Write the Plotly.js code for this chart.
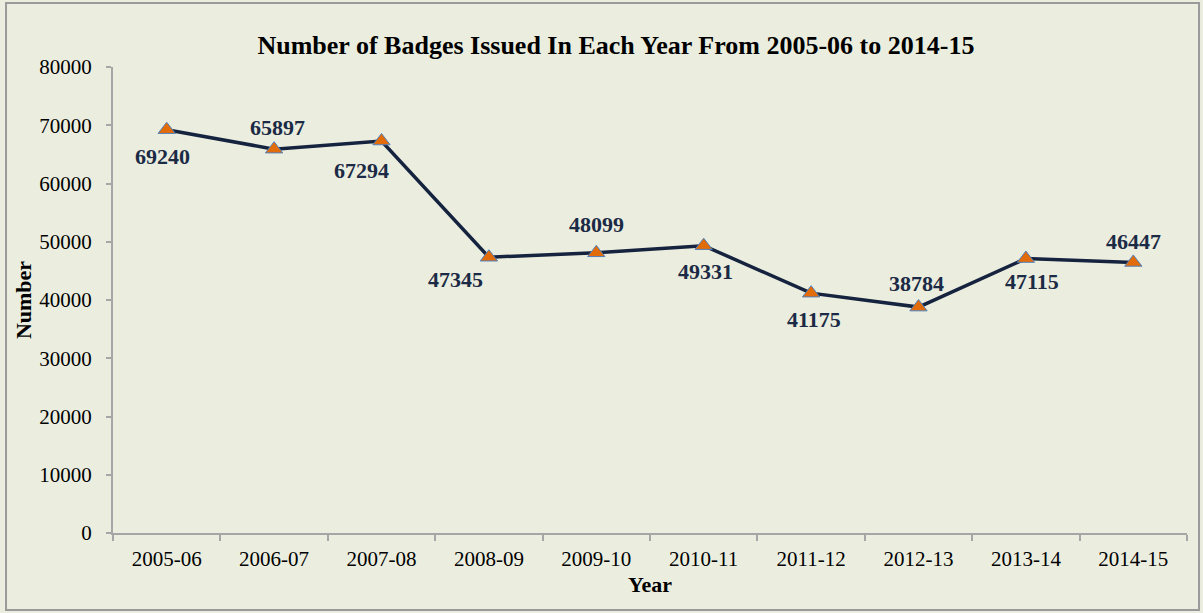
<!DOCTYPE html>
<html>
<head>
<meta charset="utf-8">
<script src="https://cdn.plot.ly/plotly-3.0.1.min.js"></script>
<style>
  body { margin: 0; background: #ebeedf; }
  #chart { width: 1203px; height: 613px; }
</style>
</head>
<body>
<div id="chart"></div>
<script>
var years = ["2005-06", "2006-07", "2007-08", "2008-09", "2009-10",
             "2010-11", "2011-12", "2012-13", "2013-14", "2014-15"];
var badges = [69240, 65897, 67294, 47345, 48099, 49331, 41175, 38784, 47115, 46447];

// label nudges in pixels (from the marker)
var labelDx = [-4, 3, -20, -33, 0, 2, 3, -2, 6, 0];
var labelDy = [-27, 22, -29, -22, 28, -26, -26, 24, -23, 21];

var serif = "Liberation Serif";

var trace = {
    x: years,
    y: badges,
    mode: "lines+markers",
    type: "scatter",
    cliponaxis: false,
    line: { color: "#15233f", width: 3.5 },
    marker: {
        symbol: "triangle-up",
        size: 15,
        color: "#e36c0a",
        line: { color: "#4f81bd", width: 1 }
    },
    hoverinfo: "x+y"
};

var labels = years.map(function (yr, i) {
    return {
        x: yr, y: badges[i], xref: "x", yref: "y",
        text: "<b>" + badges[i] + "</b>",
        showarrow: false,
        xshift: labelDx[i], yshift: labelDy[i],
        font: { family: serif, size: 22, color: "#1b2a45" }
    };
});

var layout = {
    width: 1203,
    height: 613,
    paper_bgcolor: "#ebeedf",
    plot_bgcolor: "#ebeedf",
    showlegend: false,
    margin: { l: 113, r: 16, t: 67, b: 80 },
    font: { family: serif, size: 21, color: "#000" },
    title: {
        text: "<b>Number of Badges Issued In Each Year From 2005-06 to 2014-15</b>",
        font: { family: serif, size: 26, color: "#000" },
        x: 0.512, xanchor: "center", y: 0.927, yanchor: "middle"
    },
    xaxis: {
        type: "category",
        range: [-0.5, 9.5],
        title: { text: "<b>Year</b>", font: { family: serif, size: 22 }, standoff: 6 },
        tickfont: { family: serif, size: 21, color: "#000" },
        showgrid: false,
        showline: true,
        linecolor: "#a6a6a6",
        linewidth: 2,
        ticks: "outside",
        tickson: "boundaries",
        ticklen: 6,
        tickcolor: "#a6a6a6",
        tickwidth: 2,
        ticklabelstandoff: 6,
        fixedrange: true
    },
    yaxis: {
        title: { text: "<b>Number</b>", font: { family: serif, size: 22 }, standoff: 2 },
        tickfont: { family: serif, size: 21, color: "#000" },
        range: [0, 80000],
        dtick: 10000,
        tickformat: "d",
        showgrid: false,
        zeroline: false,
        showline: true,
        linecolor: "#a6a6a6",
        linewidth: 2,
        ticks: "outside",
        ticklen: 5,
        tickcolor: "#a6a6a6",
        tickwidth: 2,
        ticklabelstandoff: 10,
        fixedrange: true
    },
    annotations: labels,
    shapes: [{
        type: "rect", xref: "paper", yref: "paper",
        x0: -0.0996, x1: 1.0112, y0: -0.165, y1: 1.1373,
        line: { color: "#9a9a9a", width: 2 }
    }]
};

Plotly.newPlot("chart", [trace], layout, { displayModeBar: false });
</script>
</body>
</html>
